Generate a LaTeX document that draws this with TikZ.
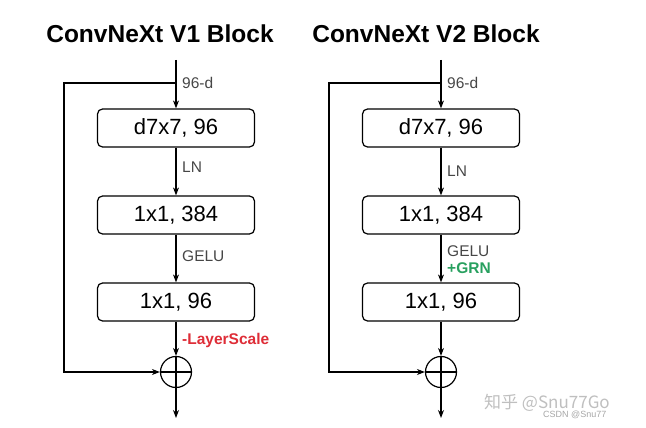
\documentclass[tikz,border=0pt]{standalone}
\usepackage{fontspec}
\setmainfont{Liberation Sans}
\newfontfamily\cjk{Noto Sans CJK SC}
\usetikzlibrary{arrows.meta}
\definecolor{lsred}{RGB}{222,45,55}
\definecolor{grngreen}{RGB}{40,160,95}
\definecolor{lblgray}{RGB}{70,70,70}
\tikzset{
    blk/.style={draw, line width=1.2pt, rounded corners=5pt, minimum width=157pt, minimum height=38pt, font=\fontsize{22}{23}\selectfont},
    arr/.style={-{Stealth[length=8pt,width=6pt]}, line width=1.2pt},
    lbl/.style={anchor=west, inner sep=0pt, text=lblgray, font=\fontsize{15.5}{16}\selectfont},
    addnode/.style={draw, circle, line width=1.2pt, minimum size=31pt, inner sep=0pt},
    ttl/.style={font=\bfseries\fontsize{24.5}{26}\selectfont}
}
\begin{document}
\begin{tikzpicture}[x=1pt,y=-1pt]
\useasboundingbox (0,0) rectangle (646,428);
    % V1 block:
    \node[ttl] (t1) at (160,34) {ConvNeXt V1 Block};
    \coordinate (in1) at (176,60);
    \coordinate (s1) at (176,83); % Abzweig
    \coordinate (k1) at (64,83);
    \node[blk] (a1) at (176,128) {d7x7, 96};
    \node[blk] (b1) at (176,215) {1x1, 384};
    \node[blk] (c1) at (176,302) {1x1, 96};
    \node[addnode] (p1) at (176,372) {};
    \coordinate (out1) at (176,418);
    \draw[line width=1.2pt] (p1.north) -- (p1.south) (p1.west) -- (p1.east); % Plus
    \draw[arr] (in1) -- (a1);
    \draw[arr] (a1) -- (b1);
    \draw[arr] (b1) -- (c1);
    \draw[arr] (c1) -- (p1);
    \draw[arr] (p1) -- (out1);
    \draw[arr] (s1) -- (k1) |- (p1);
    \node[lbl] (d1) at (182,83) {96-d};
    \node[lbl] (n1) at (182,167) {LN};
    \node[lbl] (g1) at (182,256) {GELU};
    \node[lbl, text=lsred, font=\bfseries\fontsize{15.5}{16}\selectfont] (l1) at (182,340) {-LayerScale};
    % V2 block:
    \node[ttl] (t2) at (426,34) {ConvNeXt V2 Block};
    \coordinate (in2) at (441,60);
    \coordinate (s2) at (441,83); % Abzweig
    \coordinate (k2) at (329,83);
    \node[blk] (a2) at (441,128) {d7x7, 96};
    \node[blk] (b2) at (441,215) {1x1, 384};
    \node[blk] (c2) at (441,302) {1x1, 96};
    \node[addnode] (p2) at (441,372) {};
    \coordinate (out2) at (441,418);
    \draw[line width=1.2pt] (p2.north) -- (p2.south) (p2.west) -- (p2.east); % Plus
    \draw[arr] (in2) -- (a2);
    \draw[arr] (a2) -- (b2);
    \draw[arr] (b2) -- (c2);
    \draw[arr] (c2) -- (p2);
    \draw[arr] (p2) -- (out2);
    \draw[arr] (s2) -- (k2) |- (p2);
    \node[lbl] (d2) at (447,83) {96-d};
    \node[lbl] (n2) at (447,171) {LN};
    \node[lbl] (g2) at (447,251) {GELU};
    \node[lbl, text=grngreen, font=\bfseries\fontsize{15.5}{16}\selectfont] (r2) at (447,268) {+GRN};
    % Wasserzeichen:
    \node[anchor=west, inner sep=0pt, text=black!25, font=\cjk\fontsize{17}{18}\selectfont] (w1) at (484,403) {知乎 @Snu77Go};
    \node[anchor=west, inner sep=0pt, text=black!35, font=\fontsize{9}{10}\selectfont] (w2) at (543,415) {CSDN @Snu77};
\end{tikzpicture}
\end{document}
